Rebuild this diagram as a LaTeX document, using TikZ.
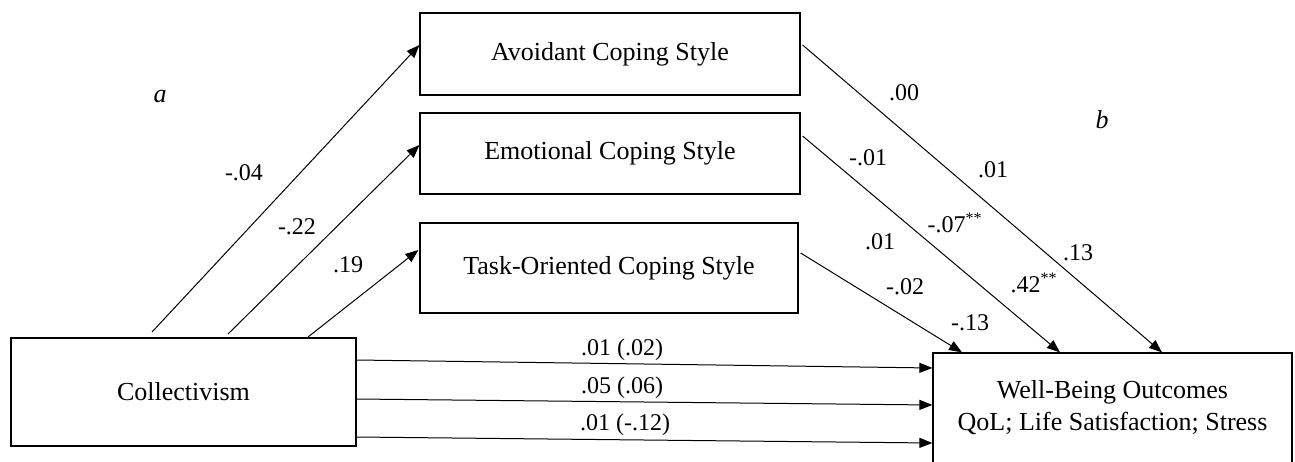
\documentclass[tikz,border=0pt]{standalone}
\usepackage{fontspec}
\setmainfont{Liberation Serif}
\usetikzlibrary{arrows.meta,calc}
\begin{document}
\begin{tikzpicture}[x=0.5pt,y=-0.5pt,
  box/.style={draw, line width=0.6pt, inner sep=0pt, align=center, font=\fontsize{13}{16}\selectfont},
  conn/.style={line width=0.5pt, -{Triangle[length=6.5pt,width=5pt]}},
  lab/.style={inner sep=0pt, font=\fontsize{12}{14}\selectfont}]
\clip (0,0) rectangle (1295,461);
\node[box, minimum width=172.5pt, minimum height=54pt] (coll) at (183.5,392) {Collectivism};
\node[box, minimum width=190pt, minimum height=41pt] (avoid) at (610,54) {Avoidant Coping Style};
\node[box, minimum width=190pt, minimum height=40.5pt] (emo) at (610,153.5) {Emotional Coping Style};
\node[box, minimum width=189pt, minimum height=45pt] (task) at (609,268) {Task-Oriented Coping Style};
\node[box, minimum width=179.5pt, minimum height=55pt] (wb) at (1112.5,408) {Well-Being Outcomes\\QoL; Life Satisfaction; Stress};
\coordinate (s1) at (152,332);
\coordinate (s2) at (228,334);
\coordinate (s3) at (308,337);
\draw[conn] (s1) -- ($(avoid.west)+(0,-9)$);
\draw[conn] (s2) -- ($(emo.west)+(0,-8.5)$);
\draw[conn] (s3) -- ($(task.west)+(-1,-18)$);
\draw[conn] ($(avoid.east)+(2,-9)$) -- ($(wb.north)+(49.5,0)$);
\draw[conn] ($(emo.east)+(2,-17.5)$) -- ($(wb.north)+(-52.5,0)$);
\draw[conn] ($(task.east)+(2,-15)$) -- ($(wb.north)+(-150.5,0)$);
\draw[conn] ($(coll.east)+(0,-32)$) -- ($(wb.west)+(0,-40)$);
\draw[conn] ($(coll.east)+(0,7)$) -- ($(wb.west)+(0,-3)$);
\draw[conn] ($(coll.east)+(0,45)$) -- ($(wb.west)+(0,35)$);
\node[lab, font=\fontsize{13}{16}\selectfont\itshape] (la) at (160,97) {a};
\node[lab, font=\fontsize{13}{16}\selectfont\itshape] (lb) at (1102,120) {b};
\node[lab] (l1) at (244,173) {-.04};
\node[lab] (l2) at (297,227) {-.22};
\node[lab] (l3) at (348,265) {.19};
\node[lab] (l4) at (904,93) {.00};
\node[lab] (l5) at (993,170) {.01};
\node[lab] (l6) at (1078,253) {.13};
\node[lab] (l7) at (868,158) {-.01};
\node[lab] (l8) at (955,223) {-.07\textsuperscript{**}};
\node[lab] (l9) at (1034,283) {.42\textsuperscript{**}};
\node[lab] (l10) at (880,242) {.01};
\node[lab] (l11) at (905,287) {-.02};
\node[lab] (l12) at (970,323) {-.13};
\node[lab] (l13) at (622,350) {.01 (.02)};
\node[lab] (l14) at (622,388) {.05 (.06)};
\node[lab] (l15) at (625,425) {.01 (-.12)};
\end{tikzpicture}
\end{document}
